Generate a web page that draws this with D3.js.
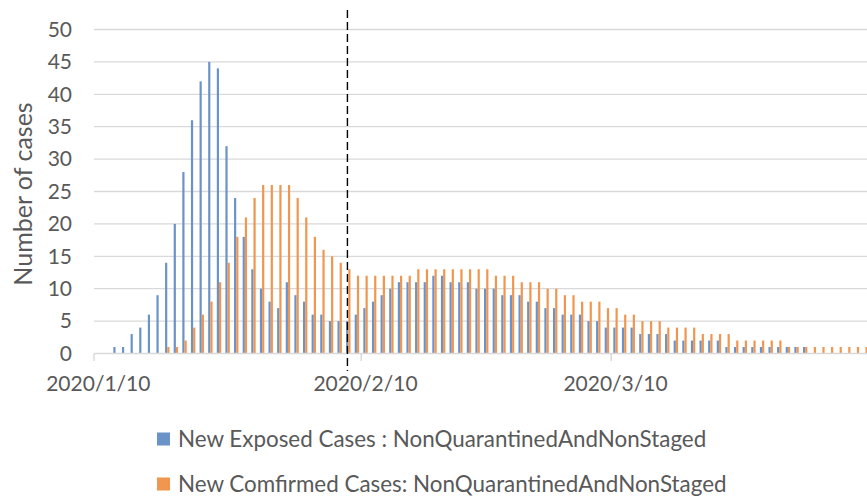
<!DOCTYPE html>
<html>
<head>
<meta charset="utf-8">
<script src="https://cdn.jsdelivr.net/npm/d3@7"></script>
<style>
  body { margin: 0; background: #fff; }
  svg { display: block; font-family: Lato, "Open Sans", sans-serif; }
</style>
</head>
<body>
<div id="chart"></div>
<script>
// daily categories, first visible day and number of days shown
const firstDay = "2020/1/10";
const dayCount = 90;
const tickLabels = ["2020/1/10", "2020/2/10", "2020/3/10"];
const yTicks = [0, 5, 10, 15, 20, 25, 30, 35, 40, 45, 50];

const seriesNames = [
    "New Exposed Cases : NonQuarantinedAndNonStaged",
    "New Comfirmed Cases: NonQuarantinedAndNonStaged"
];

const exposedCases = [
    0, 0, 1, 1, 3, 4, 6, 9, 14, 20,
    28, 36, 42, 45, 44, 32, 24, 18, 13, 10,
    8, 7, 11, 9, 8, 6, 6, 5, 5, 5,
    6, 7, 8, 9, 10, 11, 11, 11, 11, 12,
    12, 11, 11, 11, 10, 10, 10, 9, 9, 9,
    8, 8, 7, 7, 6, 6, 6, 5, 5, 4,
    4, 4, 4, 3, 3, 3, 3, 2, 2, 2,
    2, 2, 2, 1, 1, 1, 1, 1, 1, 1,
    1, 1, 1, 0, 0, 0, 0, 0, 0, 0
];

const confirmedCases = [
    0, 0, 0, 0, 0, 0, 0, 0, 1, 1,
    2, 4, 6, 8, 11, 14, 18, 21, 24, 26,
    26, 26, 26, 24, 21, 18, 16, 15, 14, 13,
    12, 12, 12, 12, 12, 12, 12, 13, 13, 13,
    13, 13, 13, 13, 13, 13, 12, 12, 12, 11,
    11, 11, 10, 10, 9, 9, 8, 8, 8, 7,
    7, 6, 6, 5, 5, 5, 4, 4, 4, 4,
    3, 3, 3, 3, 2, 2, 2, 2, 2, 2,
    1, 1, 1, 1, 1, 1, 1, 1, 1, 1
];

// dashed reference line, in days after firstDay
const markerDay = 29.4;

const fmt = d3.timeFormat("%Y/%-m/%-d");
const parse = d3.timeParse("%Y/%m/%d");
const start = parse(firstDay);
const days = d3.timeDay.range(start, d3.timeDay.offset(start, dayCount)).map(fmt);

const rows = days.map((d, i) => ({date: d, values: [exposedCases[i], confirmedCases[i]]}));

const W = 867, H = 497;
const left = 94, dayStep = 8.62;
const right = left + dayCount * dayStep;
const yBottom = 353.5, yTop = 29.5;

const svg = d3.select("#chart").append("svg")
    .attr("width", W)
    .attr("height", H);

const x0 = d3.scaleBand()
    .domain(days)
    .range([left, right])
    .paddingInner(0)
    .paddingOuter(0);

const x1 = d3.scaleBand()
    .domain(seriesNames)
    .range([0, x0.bandwidth()])
    .paddingInner(0)
    .paddingOuter(0.96);

const xDay = d3.scaleLinear().domain([0, dayCount]).range([left, right]);

const y = d3.scaleLinear().domain([0, 50]).range([yBottom, yTop]);

const color = d3.scaleOrdinal()
    .domain(seriesNames)
    .range(["#6b93c8", "#f0964f"]);

// gridlines
svg.append("g")
   .selectAll("line")
   .data(yTicks.filter(t => t > 0))
   .enter().append("line")
   .attr("x1", left).attr("x2", right)
   .attr("y1", d => y(d)).attr("y2", d => y(d))
   .attr("stroke", "#d9d9d9")
   .attr("stroke-width", 1.3);

// y axis labels
const yAxis = svg.append("g")
   .attr("transform", `translate(${left},0)`)
   .call(d3.axisLeft(y).tickValues(yTicks).tickSize(0).tickPadding(22));
yAxis.select(".domain").remove();
yAxis.selectAll("text")
     .attr("font-family", "Lato, sans-serif")
     .attr("font-size", 21)
     .attr("fill", "#595959");

// bars
const dayG = svg.append("g")
   .selectAll("g")
   .data(rows)
   .enter().append("g")
   .attr("transform", d => `translate(${x0(d.date)},0)`);

dayG.selectAll("rect")
    .data(d => d.values.map((v, k) => ({key: seriesNames[k], value: v})).filter(e => e.value > 0))
    .enter().append("rect")
    .attr("x", d => x1(d.key))
    .attr("y", d => y(d.value))
    .attr("width", x1.bandwidth())
    .attr("height", d => yBottom - y(d.value))
    .attr("fill", d => color(d.key));

// x axis
svg.append("line")
   .attr("x1", left).attr("x2", right)
   .attr("y1", yBottom).attr("y2", yBottom)
   .attr("stroke", "#d9d9d9")
   .attr("stroke-width", 1.5);

svg.append("g")
   .selectAll("line")
   .data(tickLabels)
   .enter().append("line")
   .attr("x1", d => x0(d)).attr("x2", d => x0(d))
   .attr("y1", yBottom).attr("y2", yBottom + 7.5)
   .attr("stroke", "#d9d9d9")
   .attr("stroke-width", 1.5);

const xAxis = svg.append("g")
   .attr("transform", `translate(0,${yBottom})`)
   .call(d3.axisBottom(x0).tickValues(tickLabels).tickSize(0).tickPadding(23));
xAxis.select(".domain").remove();
xAxis.selectAll("text")
     .attr("font-family", "Lato, sans-serif")
     .attr("font-size", 21)
     .attr("fill", "#595959");

// y title
svg.append("text")
   .attr("transform", "translate(32,194) rotate(-90)")
   .attr("text-anchor", "middle")
   .attr("font-size", 25)
   .attr("fill", "#595959")
   .text("Number of cases");

// dashed marker line
svg.append("line")
   .attr("x1", xDay(markerDay)).attr("x2", xDay(markerDay))
   .attr("y1", 10).attr("y2", 371)
   .attr("stroke", "#000")
   .attr("stroke-width", 1.4)
   .attr("stroke-dasharray", "8,4");

// legend
const legend = svg.append("g")
   .selectAll("g")
   .data(seriesNames)
   .enter().append("g")
   .attr("transform", (d, i) => `translate(157,${439 + i * 45})`);

legend.append("rect")
      .attr("x", 0).attr("y", -6.5)
      .attr("width", 13).attr("height", 13)
      .attr("fill", d => color(d));

legend.append("text")
      .attr("x", 21)
      .attr("dy", "0.36em")
      .attr("font-size", 22.4)
      .attr("fill", "#595959")
      .text(d => d);
</script>
</body>
</html>
